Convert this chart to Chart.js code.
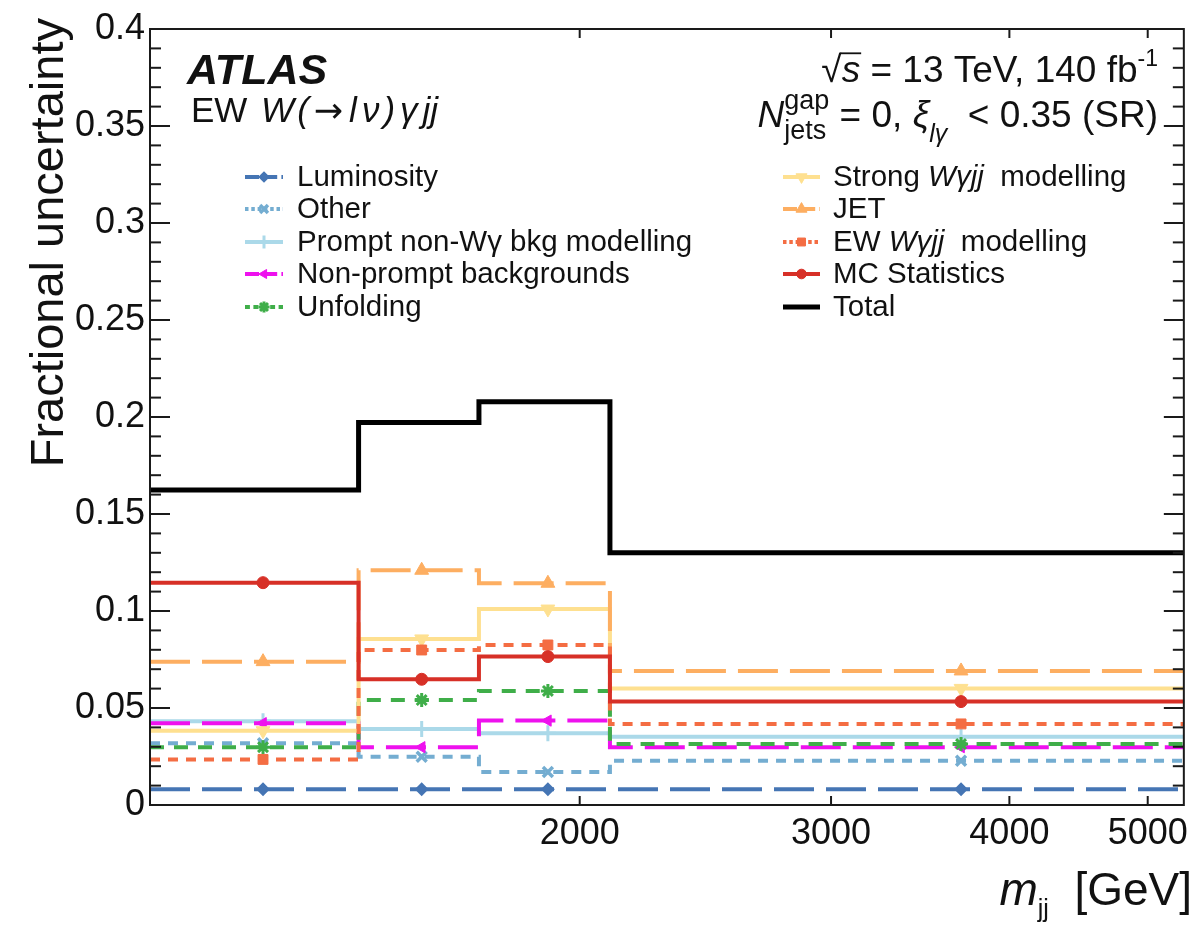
<!DOCTYPE html>
<html>
<head>
<meta charset="utf-8">
<script src="https://cdn.jsdelivr.net/npm/chart.js@4/dist/chart.umd.min.js"></script>
<style>
  html, body { margin: 0; padding: 0; background: #ffffff; }
  canvas { display: block; }
</style>
</head>
<body>
<canvas id="c" width="1195" height="925"></canvas>
<script>
// m_jj binning [GeV] and the positions of the bin markers
const binEdges   = [1000, 1400, 1700, 2100, 5300];
const binCenters = [1200, 1550, 1900, 3700];
const xTickValues = [2000, 3000, 4000, 5000];
const yTickLabels = ['0', '0.05', '0.1', '0.15', '0.2', '0.25', '0.3', '0.35', '0.4'];

// Fractional uncertainty per m_jj bin, one array per source
const luminosity  = [0.0081, 0.0081, 0.0081, 0.0081];
const other       = [0.0318, 0.0249, 0.0170, 0.0228];
const promptNonWg = [0.0432, 0.0392, 0.0370, 0.0352];
const nonPrompt   = [0.0422, 0.0298, 0.0435, 0.0298];
const unfolding   = [0.0298, 0.0541, 0.0588, 0.0314];
const strongWgjj  = [0.0383, 0.0856, 0.1010, 0.0601];
const jet         = [0.0739, 0.1210, 0.1143, 0.0691];
const ewWgjj      = [0.0235, 0.0799, 0.0825, 0.0418];
const mcStat      = [0.1146, 0.0648, 0.0765, 0.0533];
const total       = [0.1624, 0.1972, 0.2078, 0.1300];

const seriesLabels = [
  'Luminosity', 'Other', 'Prompt non-Wγ bkg modelling', 'Non-prompt backgrounds', 'Unfolding',
  'Strong Wγjj  modelling', 'JET', 'EW Wγjj  modelling', 'MC Statistics', 'Total'
];
const seriesValues = [luminosity, other, promptNonWg, nonPrompt, unfolding,
                      strongWgjj, jet, ewWgjj, mcStat, total];

const FONT = '"Liberation Sans", Arial, Helvetica, sans-serif';

// line / marker appearance of each source
const looks = [
  { color: '#4575b4', dash: [40, 12], marker: 'rectRot',  r: 5.5, bw: 2 },
  { color: '#74add1', dash: [10, 8],  marker: 'crossRot', r: 7,   bw: 3.5 },
  { color: '#abd9e9', dash: [],       marker: 'cross',    r: 8,   bw: 3 },
  { color: '#ee11ee', dash: [40, 12], marker: 'triangle', r: 6.5, bw: 1, rot: -90 },
  { color: '#3fae49', dash: [14, 10], marker: 'star',     r: 7,   bw: 3 },
  { color: '#fee090', dash: [],       marker: 'triangle', r: 8,   bw: 1, rot: 180 },
  { color: '#fdae61', dash: [40, 12], marker: 'triangle', r: 8,   bw: 1 },
  { color: '#f46d43', dash: [10, 8],  marker: 'rect',     r: 7,   bw: 1 },
  { color: '#d73027', dash: [],       marker: 'circle',   r: 6,   bw: 1 },
  { color: '#000000', dash: [],       marker: null,       r: 0,   bw: 1, w: 5 }
];

// histogram outline: value held across each bin, marker at the bin centre
function stepPoints(values) {
  const pts = [];
  values.forEach((v, i) => {
    pts.push({ x: binEdges[i], y: v });
    pts.push({ x: binCenters[i], y: v });
  });
  pts.push({ x: binEdges[binEdges.length - 1], y: values[values.length - 1] });
  return pts;
}

const datasets = seriesValues.map((vals, i) => {
  const lk = looks[i];
  return {
    label: seriesLabels[i],
    data: stepPoints(vals),
    stepped: 'before',
    borderColor: lk.color,
    borderWidth: lk.w || 4,
    borderDash: lk.dash,
    borderCapStyle: 'butt',
    fill: false,
    pointStyle: lk.marker || 'circle',
    pointRotation: lk.rot || 0,
    pointRadius: ctx => (lk.marker && ctx.dataIndex % 2 === 1 && ctx.dataIndex < 8) ? lk.r : 0,
    pointBackgroundColor: lk.color,
    pointBorderColor: lk.color,
    pointBorderWidth: lk.bw,
    order: seriesValues.length - i
  };
});

function drawRich(ctx, parts, x, y, align) {
  const fontOf = p => `${p.st || 'normal'} ${p.s}px ${p.f || FONT}`;
  parts.forEach(p => { ctx.font = fontOf(p); p.w = ctx.measureText(p.t).width + (p.pad || 0); });
  const pos = [];
  let cx = 0;
  parts.forEach((p, i) => {
    pos.push(cx);
    if (p.stack) return;
    const prev = parts[i - 1];
    cx += (prev && prev.stack) ? Math.max(prev.w, p.w) : p.w;
  });
  const x0 = align === 'right' ? x - cx : x;
  parts.forEach((p, i) => {
    ctx.font = fontOf(p);
    ctx.fillText(p.t, x0 + pos[i] + (p.pad || 0) / 2, y + (p.dy || 0));
    if (p.over) ctx.fillRect(x0 + pos[i] - 2, y - p.s * 0.80, p.w + 3, 1.8);
  });
}

function labelParts(text, size) {
  return text.split(/(Wγjj)/).filter(s => s.length).map(s =>
    ({ t: s, s: size, st: s === 'Wγjj' ? 'italic' : 'normal' }));
}

const decorations = {
  id: 'decorations',
  afterDraw(chart) {
    const { ctx, chartArea: a, scales: { x, y } } = chart;
    ctx.save();
    ctx.strokeStyle = '#1a1a1a';
    ctx.lineWidth = 2;
    const seg = (x1, y1, x2, y2) => { ctx.beginPath(); ctx.moveTo(x1, y1); ctx.lineTo(x2, y2); ctx.stroke(); };

    // y ticks: majors from the axis, four minors between them
    const majors = y.ticks.map(t => t.value);
    for (let k = 0; k < majors.length; k++) {
      const py = y.getPixelForValue(majors[k]);
      seg(a.left, py, a.left + 20, py);
      seg(a.right, py, a.right - 20, py);
      if (k + 1 < majors.length) {
        for (let m = 1; m < 5; m++) {
          const v = majors[k] + (majors[k + 1] - majors[k]) * m / 5;
          const pm = y.getPixelForValue(v);
          seg(a.left, pm, a.left + 11, pm);
          seg(a.right, pm, a.right - 11, pm);
        }
      }
    }
    // x ticks (bottom and top)
    x.ticks.forEach(t => {
      const px = x.getPixelForValue(t.value);
      seg(px, a.bottom, px, a.bottom - 9);
      seg(px, a.top, px, a.top + 9);
    });
    // frame
    ctx.strokeRect(a.left, a.top, a.right - a.left, a.bottom - a.top);

    ctx.fillStyle = '#111';
    ctx.textBaseline = 'alphabetic';

    // axis titles
    ctx.save();
    ctx.translate(63, 18);
    ctx.rotate(-Math.PI / 2);
    ctx.textAlign = 'right';
    ctx.font = `47px ${FONT}`;
    ctx.fillText('Fractional uncertainty', 0, 0);
    ctx.restore();

    ctx.textAlign = 'left';
    drawRich(ctx, [
      { t: 'm', s: 46, st: 'italic' },
      { t: 'jj', s: 25, dy: 12 },
      { t: '  [GeV]', s: 46 }
    ], 1192, 905, 'right');

    // experiment labels
    ctx.font = `italic bold 43px ${FONT}`;
    ctx.fillText('ATLAS', 187, 84);
    drawRich(ctx, [
      { t: 'EW ', s: 35, pad: 6 },
      { t: 'W', s: 35, st: 'italic', pad: 2 },
      { t: '(', s: 35, st: 'italic', pad: 4 },
      { t: '→', s: 35, f: '"DejaVu Sans", sans-serif', pad: 6 },
      { t: 'l', s: 35, st: 'italic', pad: 6 },
      { t: 'ν', s: 35, st: 'italic', pad: 4 },
      { t: ')', s: 35, st: 'italic', pad: 4 },
      { t: 'γ', s: 35, st: 'italic', pad: 6 },
      { t: 'jj', s: 35, st: 'italic', pad: 4 }
    ], 188, 122, 'left');

    drawRich(ctx, [
      { t: '√', s: 37 },
      { t: 's', s: 37, st: 'italic', over: true },
      { t: ' = 13 TeV, 140 fb', s: 37 },
      { t: '-1', s: 23, dy: -16 }
    ], 1158, 82, 'right');
    drawRich(ctx, [
      { t: 'N', s: 37, st: 'italic' },
      { t: 'gap', s: 27, dy: -18, stack: true },
      { t: 'jets', s: 27, dy: 12 },
      { t: ' = 0, ', s: 37 },
      { t: 'ξ', s: 37, st: 'italic' },
      { t: 'lγ', s: 25, st: 'italic', dy: 15 },
      { t: '  < 0.35 (SR)', s: 37 }
    ], 1158, 127, 'right');

    // legend: two columns of five
    const rowsY = [177, 209, 242, 274, 307];
    const cols = [{ x0: 245, x1: 283, tx: 297 }, { x0: 783, x1: 820, tx: 833 }];
    chart.data.datasets.forEach((ds, i) => {
      const lk = looks[i];
      const col = cols[Math.floor(i / 5)];
      const ry = rowsY[i % 5];
      ctx.save();
      ctx.strokeStyle = lk.color;
      ctx.fillStyle = lk.color;
      ctx.lineWidth = lk.w || 4;
      ctx.setLineDash(lk.dash.map(d => d * 0.35));
      seg(col.x0, ry, col.x1, ry);
      ctx.setLineDash([]);
      if (lk.marker) {
        ctx.lineWidth = lk.bw;
        Chart.helpers.drawPoint(ctx, { pointStyle: lk.marker, rotation: lk.rot || 0, radius: lk.r * 0.8, borderWidth: lk.bw },
          (col.x0 + col.x1) / 2, ry);
      }
      ctx.restore();
      ctx.fillStyle = '#111';
      ctx.textBaseline = 'middle';
      drawRich(ctx, labelParts(ds.label, 29.5), col.tx, ry + 1, 'left');
      ctx.textBaseline = 'alphabetic';
    });
    ctx.restore();
  }
};

new Chart(document.getElementById('c'), {
  type: 'line',
  data: { datasets },
  options: {
    responsive: false,
    animation: false,
    events: [],
    layout: { padding: { top: 29, right: 7, left: 0, bottom: 0 } },
    plugins: { legend: { display: false }, tooltip: { enabled: false } },
    scales: {
      x: {
        type: 'logarithmic',
        min: binEdges[0],
        max: binEdges[binEdges.length - 1],
        grid: { display: false, drawTicks: false },
        border: { display: false },
        afterBuildTicks: s => { s.ticks = xTickValues.map(v => ({ value: v })); },
        afterFit: s => { s.height = 120; },
        ticks: {
          autoSkip: false, maxRotation: 0, padding: 7, color: '#111',
          font: { family: FONT, size: 36 },
          callback: v => String(v)
        }
      },
      y: {
        type: 'linear',
        min: 0,
        max: 0.4,
        grid: { display: false, drawTicks: false },
        border: { display: false },
        afterBuildTicks: s => { s.ticks = yTickLabels.map(t => ({ value: parseFloat(t) })); },
        afterFit: s => { s.width = 150; },
        ticks: {
          padding: 5, color: '#111',
          font: { family: FONT, size: 36 },
          callback: (v, i) => yTickLabels[i]
        }
      }
    }
  },
  plugins: [decorations]
});
</script>
</body>
</html>
